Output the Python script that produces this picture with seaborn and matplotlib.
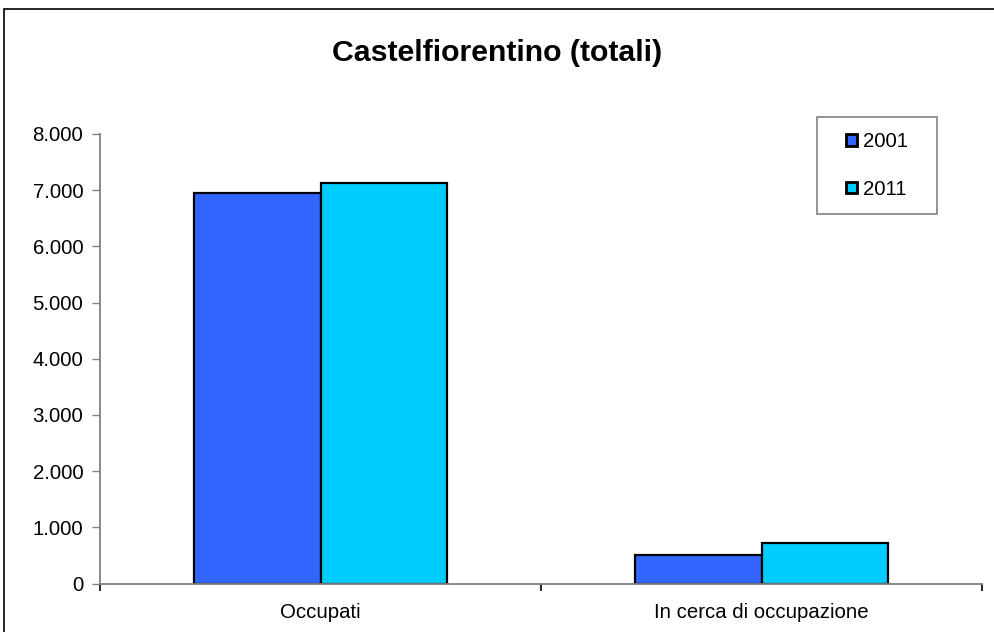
import matplotlib
matplotlib.use("Agg")
import matplotlib.pyplot as plt
import matplotlib.ticker as mticker
from matplotlib.patches import Rectangle
import seaborn as sns
import pandas as pd

# Dati: popolazione attiva di Castelfiorentino
categorie = ["Occupati", "In cerca di occupazione"]
anni = ["2001", "2011"]
valori_2001 = [6955, 505]
valori_2011 = [7133, 732]
colori = {"2001": "#3366FF", "2011": "#00CCFF"}
titolo = "Castelfiorentino (totali)"

df = pd.DataFrame({
    "categoria": categorie * 2,
    "anno": [anni[0]] * len(categorie) + [anni[1]] * len(categorie),
    "valore": valori_2001 + valori_2011,
})

sns.set_style("white")
plt.rcParams["font.family"] = ["Liberation Sans", "DejaVu Sans"]
plt.rcParams["text.color"] = "black"
plt.rcParams["axes.labelcolor"] = "black"

W, H = 995, 632
fig = plt.figure(figsize=(W / 100, H / 100), dpi=100)
ax = fig.add_axes([100 / W, 1 - 583.7 / H, 882 / W, (583.7 - 133.8) / H])

sns.barplot(data=df, x="categoria", y="valore", hue="anno",
            order=categorie, hue_order=anni, palette=colori,
            width=0.574, saturation=1, errorbar=None,
            edgecolor="black", linewidth=1.6, ax=ax)

handles, labels = ax.get_legend_handles_labels()
if ax.get_legend() is not None:
    ax.get_legend().remove()

ax.set_xlim(-0.5, len(categorie) - 0.5)
ax.set_ylim(0, 8000)
ax.set_xlabel("")
ax.set_ylabel("")

# Asse y con separatore delle migliaia all'italiana
ax.yaxis.set_major_locator(mticker.MultipleLocator(1000))
ax.yaxis.set_major_formatter(
    mticker.FuncFormatter(lambda v, _: f"{int(v):,}".replace(",", ".")))
ax.tick_params(axis="y", which="major", left=True, length=6, width=1,
               color="#808080", pad=6, labelsize=14.7, labelcolor="black")

# Asse x: tacche ai confini delle categorie, etichette al centro
ax.set_xticks([i - 0.5 for i in range(len(categorie) + 1)])
ax.set_xticklabels([""] * (len(categorie) + 1))
ax.set_xticks(range(len(categorie)), minor=True)
ax.set_xticklabels(categorie, minor=True)
ax.tick_params(axis="x", which="major", bottom=True, length=5, width=1.2,
               color="black", direction="out")
ax.tick_params(axis="x", which="minor", bottom=True, length=0, pad=14,
               labelsize=14.7, labelcolor="black")

for side in ("top", "right"):
    ax.spines[side].set_visible(False)
for side in ("left", "bottom"):
    ax.spines[side].set_color("#808080")
    ax.spines[side].set_linewidth(1.3)
ax.grid(False)

fig.text(0.5, 1 - 53 / H, titolo, ha="center", va="center",
         fontsize=21.8, fontweight="bold", color="black")

# Legenda con riquadro grigio
fig.add_artist(Rectangle((817 / W, 1 - 214 / H), 120 / W, 97 / H,
                         transform=fig.transFigure, fill=False,
                         edgecolor="#808080", linewidth=1.2))
leg = fig.legend(handles, labels, loc="center",
                 bbox_to_anchor=(877 / W, 1 - 165.5 / H), frameon=False,
                 fontsize=14.7, handlelength=0.5, handleheight=0.5,
                 handletextpad=0.3, labelspacing=1.4)
for t in leg.get_texts():
    t.set_color("black")
for p in leg.get_patches():
    p.set_linewidth(2)

# Cornice esterna del grafico
fig.add_artist(Rectangle((4 / W, -0.1), 1.0, 1.1 - 9 / H,
                         transform=fig.transFigure, fill=False,
                         edgecolor="black", linewidth=1.2, clip_on=False))

fig.savefig("out.png", dpi=100)
